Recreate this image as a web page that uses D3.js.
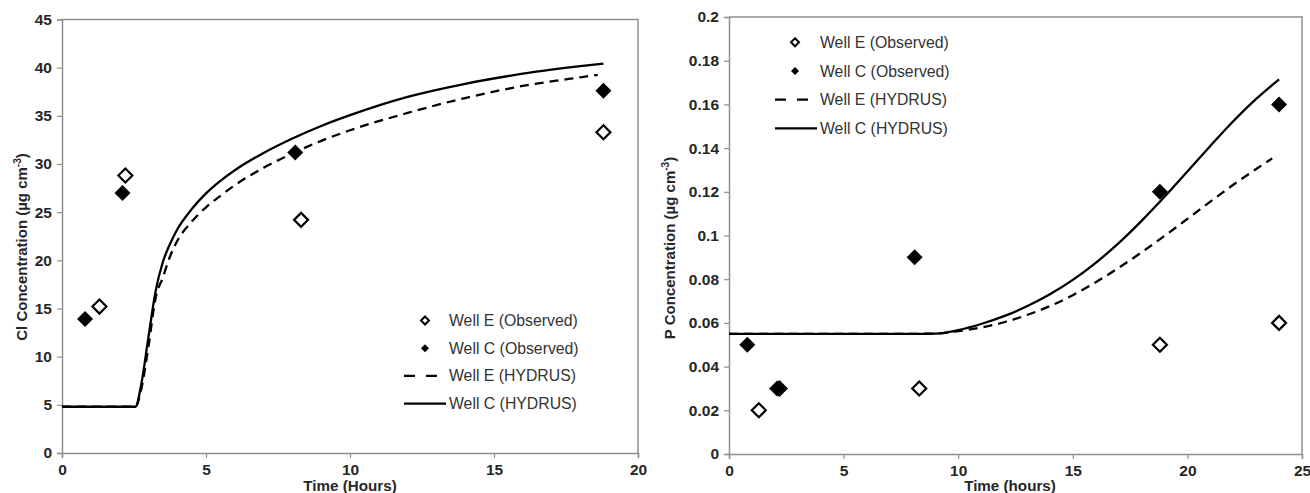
<!DOCTYPE html>
<html>
<head>
<meta charset="utf-8">
<script src="https://cdn.jsdelivr.net/npm/d3@7"></script>
<style>
  html, body { margin: 0; padding: 0; background: #fff; }
  svg { display: block; font-family: "Liberation Sans", Arial, sans-serif; }
</style>
</head>
<body>
<svg id="chart" width="1310" height="493"></svg>
<script>
// ---- Chloride panel ----
const clObsETime = [1.3, 2.2, 8.3, 18.8];
const clObsE     = [15.2, 28.8, 24.2, 33.3];
const clObsCTime = [0.8, 2.1, 8.1, 18.8];
const clObsC     = [13.9, 27.0, 31.2, 37.6];

const clSimCTime = [0, 2.55, 2.75, 3.0, 3.25, 3.5, 3.75, 4.0, 4.5, 5, 5.5, 6, 7, 8, 9, 10, 12, 14, 16, 18, 18.8];
const clSimC     = [4.8, 4.8, 7.1, 12.0, 16.8, 19.8, 21.7, 23.2, 25.3, 26.95, 28.25, 29.35, 31.15, 32.65, 33.95, 35.07, 36.97, 38.33, 39.37, 40.15, 40.42];
const clSimETime = [0, 2.55, 2.75, 3.0, 3.25, 3.5, 3.75, 4.0, 4.5, 5, 5.5, 6, 7, 8, 9, 10, 12, 14, 16, 18, 18.6];
const clSimE     = [4.8, 4.8, 6.6, 11.0, 16.1, 18.2, 20.4, 22.0, 24.0, 25.5, 26.7, 27.8, 29.6, 31.1, 32.4, 33.5, 35.3, 36.85, 38.1, 39.0, 39.25];

const clXTicks = [0, 5, 10, 15, 20];
const clYTicks = [0, 5, 10, 15, 20, 25, 30, 35, 40, 45];

// ---- Phosphorus panel ----
const pObsETime = [1.3, 2.2, 8.3, 18.8, 24];
const pObsE     = [0.02, 0.03, 0.03, 0.05, 0.06];
const pObsCTime = [0.8, 2.1, 8.1, 18.8, 24];
const pObsC     = [0.05, 0.03, 0.09, 0.12, 0.16];

const pSimCTime = [0, 8, 9, 10, 11, 12, 13, 14, 15, 16, 17, 18, 19, 20, 21, 22, 23, 24];
const pSimC     = [0.055, 0.055, 0.0551, 0.0567, 0.0595, 0.0631, 0.0676, 0.0731, 0.0797, 0.0875, 0.0965, 0.1067, 0.1177, 0.1293, 0.141, 0.1523, 0.1625, 0.1715];
const pSimETime = [0, 8, 9, 10, 11, 12, 13, 14, 15, 16, 17, 18, 19, 20, 21, 22, 23, 23.7];
const pSimE     = [0.055, 0.055, 0.0551, 0.0562, 0.0579, 0.0603, 0.0636, 0.0677, 0.0727, 0.0786, 0.0852, 0.0923, 0.0998, 0.1076, 0.1155, 0.1232, 0.1304, 0.1353];

const pXTicks = [0, 5, 10, 15, 20, 25];
const pYTicks = [0, 0.02, 0.04, 0.06, 0.08, 0.1, 0.12, 0.14, 0.16, 0.18, 0.2];

const legendLabels = ["Well E (Observed)", "Well C (Observed)", "Well E (HYDRUS)", "Well C (HYDRUS)"];

const svg = d3.select("#chart");
const AXIS = "#8f8f8f";
const TXT = "#262626";

const zip = (xs, ys) => xs.map((x, i) => ({ x, y: ys[i] }));

function diamondPath(r) {
  return `M0,${-r}L${r},0L0,${r}L${-r},0Z`;
}

function panel(cfg) {
  const x = d3.scaleLinear().domain(cfg.xDomain).range([cfg.left, cfg.right]);
  const y = d3.scaleLinear().domain(cfg.yDomain).range([cfg.bottom, cfg.top]);
  const g = svg.append("g");

  // frame (top and right edges)
  g.append("path")
    .attr("d", `M${cfg.left},${cfg.top}H${cfg.right}V${cfg.bottom}`)
    .attr("fill", "none").attr("stroke", AXIS).attr("stroke-width", 1.5);

  const yAxis = g.append("g").attr("transform", `translate(${cfg.left},0)`)
    .call(d3.axisLeft(y).tickValues(cfg.yTicks).tickSize(5).tickPadding(5).tickFormat(cfg.yFmt));
  const xAxis = g.append("g").attr("transform", `translate(0,${cfg.bottom})`)
    .call(d3.axisBottom(x).tickValues(cfg.xTicks).tickSize(5).tickPadding(6).tickFormat(d3.format("d")));
  [xAxis, yAxis].forEach(a => {
    a.select(".domain").attr("stroke", AXIS).attr("stroke-width", 1.5);
    a.selectAll(".tick line").attr("stroke", AXIS).attr("stroke-width", 1.2);
    a.selectAll(".tick text").attr("fill", TXT).attr("font-size", 15.5).attr("font-weight", "bold")
      .attr("font-family", "'Liberation Sans', Arial, sans-serif");
  });

  // axis titles
  g.append("text")
    .attr("x", cfg.xTitleX).attr("y", cfg.xTitleY)
    .attr("text-anchor", "middle").attr("font-size", 15.2).attr("font-weight", "bold").attr("fill", TXT)
    .text(cfg.xTitle);
  const yt = g.append("text")
    .attr("transform", `translate(${cfg.yTitleX},${cfg.yTitleY}) rotate(-90)`)
    .attr("text-anchor", "middle").attr("font-size", 15).attr("font-weight", "bold").attr("fill", TXT);
  yt.append("tspan").text(cfg.yTitle + " (µg cm");
  yt.append("tspan").attr("font-size", 10).attr("dy", -6).text("-3");
  yt.append("tspan").attr("dy", 6).text(")");

  // simulated curves
  const line = d3.line().x(d => x(d.x)).y(d => y(d.y)).curve(d3.curveMonotoneX);
  g.append("path").datum(cfg.simE).attr("d", line)
    .attr("fill", "none").attr("stroke", "#000").attr("stroke-width", 2.3)
    .attr("stroke-dasharray", "9,6");
  g.append("path").datum(cfg.simC).attr("d", line)
    .attr("fill", "none").attr("stroke", "#000").attr("stroke-width", 2.3);

  // observed points
  g.selectAll(".obsE").data(cfg.obsE).join("path")
    .attr("transform", d => `translate(${x(d.x)},${y(d.y)})`)
    .attr("d", diamondPath(7)).attr("fill", "#fff").attr("stroke", "#000").attr("stroke-width", 2.2)
    .attr("stroke-linejoin", "miter");
  g.selectAll(".obsC").data(cfg.obsC).join("path")
    .attr("transform", d => `translate(${x(d.x)},${y(d.y)})`)
    .attr("d", diamondPath(8)).attr("fill", "#000");

  // legend
  const L = g.append("g").attr("transform", `translate(${cfg.legX},${cfg.legY})`);
  const step = cfg.legStep;
  L.append("path").attr("transform", `translate(${cfg.legMark},0)`)
    .attr("d", diamondPath(4)).attr("fill", "#fff").attr("stroke", "#000").attr("stroke-width", 2);
  L.append("path").attr("transform", `translate(${cfg.legMark},${step})`)
    .attr("d", diamondPath(4)).attr("fill", "#000");
  L.append("line").attr("x1", cfg.legLine0).attr("x2", cfg.legLine0 + 33)
    .attr("y1", 2 * step).attr("y2", 2 * step)
    .attr("stroke", "#000").attr("stroke-width", 2.3).attr("stroke-dasharray", "11,11");
  L.append("line").attr("x1", cfg.legLine0).attr("x2", cfg.legLine0 + 42)
    .attr("y1", 3 * step).attr("y2", 3 * step)
    .attr("stroke", "#000").attr("stroke-width", 2.3);
  L.selectAll("text.leg").data(legendLabels).join("text")
    .attr("x", 0).attr("y", (d, i) => i * step).attr("dy", "0.35em")
    .attr("font-size", 15.8).attr("fill", "#333").text(d => d);
}

panel({
  left: 62, right: 638, top: 19.5, bottom: 453,
  xDomain: [0, 20], yDomain: [0, 45],
  xTicks: clXTicks, yTicks: clYTicks, yFmt: d3.format("d"),
  xTitle: "Time (Hours)", xTitleX: 350, xTitleY: 490.5,
  yTitle: "Cl Concentration", yTitleX: 27, yTitleY: 247,
  simC: zip(clSimCTime, clSimC), simE: zip(clSimETime, clSimE),
  obsE: zip(clObsETime, clObsE), obsC: zip(clObsCTime, clObsC),
  legX: 449, legY: 320.5, legStep: 27.7, legMark: -24, legLine0: -45
});

panel({
  left: 729, right: 1302, top: 17, bottom: 454,
  xDomain: [0, 25], yDomain: [0, 0.2],
  xTicks: pXTicks, yTicks: pYTicks, yFmt: d => d === 0 ? "0" : String(+d.toFixed(2)),
  xTitle: "Time (hours)", xTitleX: 1010, xTitleY: 491,
  yTitle: "P Concentration", yTitleX: 675, yTitleY: 248,
  simC: zip(pSimCTime, pSimC), simE: zip(pSimETime, pSimE),
  obsE: zip(pObsETime, pObsE), obsC: zip(pObsCTime, pObsC),
  legX: 820, legY: 42.3, legStep: 28.7, legMark: -25, legLine0: -45
});
</script>
</body>
</html>
